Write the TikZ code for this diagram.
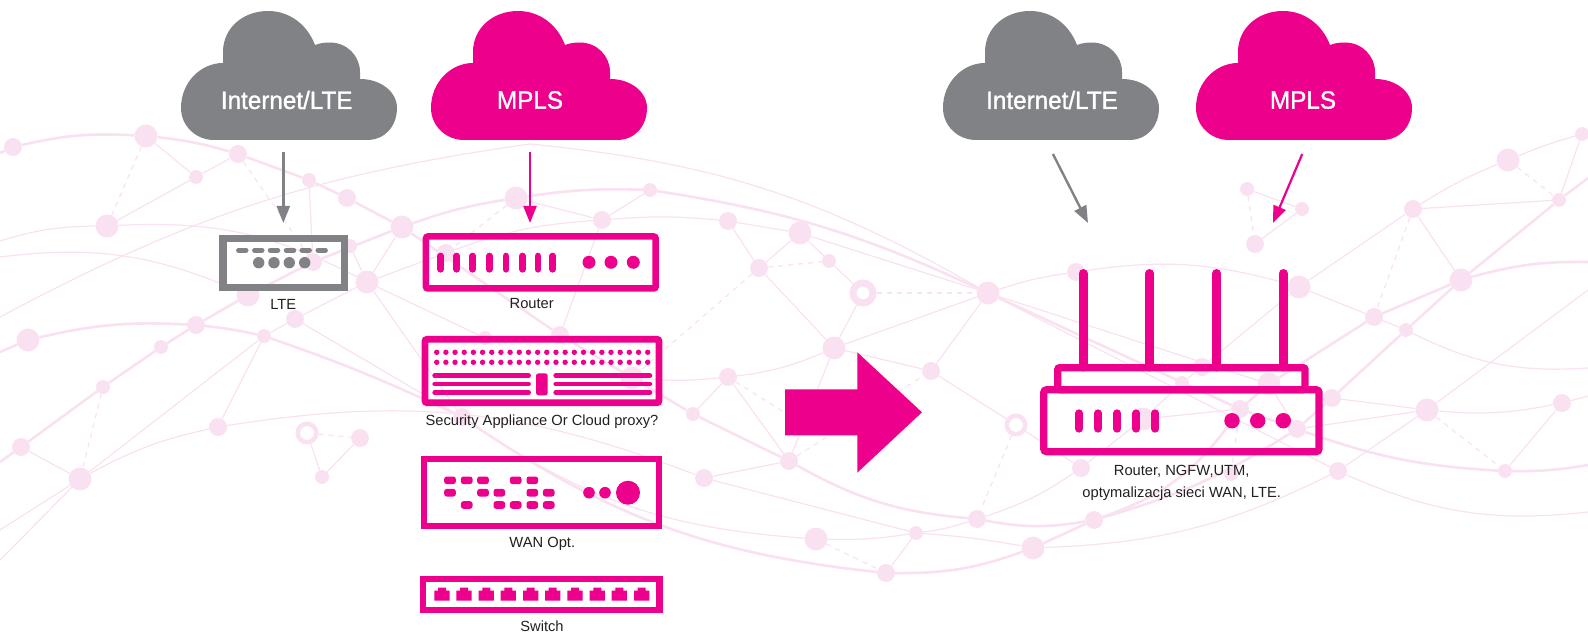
\documentclass[tikz,border=0pt]{standalone}
\usepackage{fontspec}
\setmainfont{Liberation Sans}
\newfontfamily\cloudfont[FakeBold=1.2,FakeStretch=0.97]{Liberation Sans}
\usetikzlibrary{shapes,arrows.meta}
\definecolor{tmagenta}{HTML}{EC008C}
\definecolor{tgray}{HTML}{808285}
\definecolor{netpink}{HTML}{FAE1F1}
\definecolor{labeldark}{HTML}{231F20}
\tikzset{
  netS/.style={shape=circle,fill=netpink,inner sep=0pt,minimum size=14pt},
  netM/.style={shape=circle,fill=netpink,inner sep=0pt,minimum size=18pt},
  netL/.style={shape=circle,fill=netpink,inner sep=0pt,minimum size=23pt},
  netring/.style={shape=circle,draw=netpink,fill=white,line width=4.5pt,inner sep=0pt,minimum size=18.5pt},
  netthick/.style={-,draw=netpink,line width=2.6pt},
  netthin/.style={-,draw=netpink,line width=1.2pt},
  netdash/.style={-,draw=netpink,line width=1.2pt,dash pattern=on 5pt off 5pt},
  cloudlabel/.style={font=\fontsize{25}{28}\cloudfont,text=white,inner sep=0pt,minimum height=104pt},
  devicelabel/.style={font=\fontsize{14.7}{22.3}\selectfont,text=labeldark,inner sep=0pt,align=center},
  devicebox/.style={shape=rectangle,draw=tmagenta,line width=6.5pt,inner sep=0pt},
  grayarrow/.style={-{Triangle[width=13pt,length=17pt]},draw=tgray,line width=2.4pt},
  pinkarrow/.style={-{Triangle[width=13pt,length=17pt]},draw=tmagenta,line width=2.2pt},
  pillbar/.style={draw=tmagenta,line cap=round},
  cloudbody/.pic={\path[pic actions] (33,0) .. controls (15,0) and (0,-14) .. (0,-32) .. controls (0,-58) and (20,-77) .. (42,-77) -- (42,-88) .. controls (42,-112) and (62,-129) .. (87,-129) .. controls (108,-129) and (126,-116) .. (134,-95) .. controls (139,-97) and (144,-97.5) .. (149,-97.5) .. controls (166,-97.5) and (179,-84) .. (179,-68) -- (179,-61) .. controls (200,-61) and (216,-48) .. (216,-32) .. controls (216,-14) and (204,0) .. (186,0) -- cycle;},
  portjack/.pic={\fill[tmagenta] (-7.6,0) -- (-7.6,-10) -- (-4,-10) -- (-4,-13) -- (4,-13) -- (4,-10) -- (7.6,-10) -- (7.6,0) -- cycle;}
}
\begin{document}
\begin{tikzpicture}[x=1pt,y=-1pt]
\useasboundingbox (0,0) rectangle (1588,636);

\node[netM] (0) at (13,147) {};
\node[netL] (1) at (146,136) {};
\node[netS] (2) at (196,177) {};
\node[netM] (3) at (238,154) {};
\node[netS] (4) at (309,180) {};
\node[netM] (5) at (347,198) {};
\node[netL] (6) at (402,227) {};
\node[netL] (7) at (107,226) {};
\node[netS] (8) at (350,246) {};
\node[netM] (9) at (313,262) {};
\node[netL] (10) at (367,282) {};
\node[netL] (11) at (248,295) {};
\node[netM] (12) at (295,319) {};
\node[netM] (13) at (196,325) {};
\node[netS] (14) at (264,336) {};
\node[netL] (15) at (28,340) {};
\node[netS] (16) at (161,347) {};
\node[netS] (17) at (103,387) {};
\node[netM] (18) at (218,427) {};
\node[netM] (19) at (21,447) {};
\node[netL] (20) at (80,479) {};
\node[netring] (21) at (307,433) {};
\node[netM] (22) at (360,438) {};
\node[netS] (23) at (322,477) {};
\node[netL] (24) at (516,198) {};
\node[netM] (25) at (602,220) {};
\node[netS] (26) at (650,190) {};
\node[netM] (27) at (446,253) {};
\node[netM] (28) at (728,221) {};
\node[netL] (29) at (800,233) {};
\node[netM] (30) at (759,268) {};
\node[netS] (31) at (829,261) {};
\node[netring,line width=7pt,minimum size=20pt] (32) at (863,293) {};
\node[netL] (33) at (988,293) {};
\node[netL] (34) at (834,348) {};
\node[netM] (35) at (560,335) {};
\node[netS] (36) at (485,338) {};
\node[netL] (37) at (632,378) {};
\node[netM] (38) at (728,377) {};
\node[netS] (39) at (693,414) {};
\node[netM] (40) at (462,417) {};
\node[netM] (41) at (931,371) {};
\node[netring] (42) at (1016,425) {};
\node[netM] (43) at (789,461) {};
\node[netM] (44) at (704,478) {};
\node[netM] (45) at (977,519) {};
\node[netS] (46) at (916,533) {};
\node[netL] (47) at (816,539) {};
\node[netM] (48) at (886,573) {};
\node[netL] (49) at (1033,548) {};
\node[netS] (50) at (1247,189) {};
\node[netS] (51) at (1302,209) {};
\node[netM] (52) at (1255,244) {};
\node[netL] (53) at (1508,160) {};
\node[netS] (54) at (1582,134) {};
\node[netS] (55) at (1559,200) {};
\node[netM] (56) at (1413,209) {};
\node[netL] (57) at (1299,287) {};
\node[netL] (58) at (1461,280) {};
\node[netM] (59) at (1374,317) {};
\node[netS] (60) at (1406,330) {};
\node[netM] (61) at (1332,398) {};
\node[netL] (62) at (1427,410) {};
\node[netM] (63) at (1562,403) {};
\node[netS] (64) at (1505,471) {};
\node[netM] (65) at (1338,471) {};
\node[netM] (66) at (1202,367) {};
\node[netS] (67) at (1182,383) {};
\node[netL] (68) at (1269,384) {};
\node[netM] (69) at (1240,409) {};
\node[netM] (70) at (1297,429) {};
\node[netM] (71) at (1076,272) {};
\node[netL] (72) at (1143,419) {};
\node[netM] (73) at (1081,468) {};
\node[netM] (74) at (1094,520) {};
\node[netS] (75) at (1231,474) {};

\coordinate (w0) at (0,153);
\coordinate (w1) at (0,241);
\coordinate (w2) at (0,257);
\coordinate (w3) at (0,317);
\coordinate (w4) at (0,352);
\coordinate (w5) at (0,462);
\coordinate (w6) at (0,530);
\coordinate (w7) at (0,560);
\coordinate (e0) at (1588,178);
\coordinate (e1) at (1588,262);
\coordinate (e2) at (1588,290);
\coordinate (e3) at (1588,368);
\coordinate (e4) at (1588,396);
\coordinate (e5) at (1588,465);
\coordinate (e6) at (1588,512);
\coordinate (archtop) at (530,144);
\coordinate (underarrow) at (790,416);

\path [netthick] (w0) edge node {} (0);
\path [netthick] (0) edge[bend left=8] node {} (1);
\path [netthick] (1) edge[bend left=5] node {} (3);
\path [netthick] (3) edge node {} (4);
\path [netthick] (4) edge node {} (5);
\path [netthick] (5) edge node {} (6);
\path [netthick] (6) edge node {} (35);
\path [netthick] (35) edge node {} (39);
\path [netthick] (39) edge node {} (43);
\path [netthick] (43) edge[bend right=12] node {} (45);
\path [netthick] (45) edge[bend right=10] node {} (74);
\path [netthick] (w4) edge node {} (15);
\path [netthick] (15) edge[bend left=8] node {} (13);
\path [netthick] (13) edge[bend left=3] node {} (14);
\path [netthick] (14) edge[bend left=3] node {} (40);
\path [netthick] (40) edge[bend right=14] node {} (48);
\path [netthick] (48) edge[bend right=10] node {} (49);
\path [netthick] (49) edge node {} (74);
\path [netthick] (w5) edge node {} (19);
\path [netthick] (19) edge node {} (17);
\path [netthick] (17) edge node {} (16);
\path [netthick] (16) edge node {} (13);
\path [netthick] (13) edge node {} (11);
\path [netthick] (11) edge node {} (9);
\path [netthick] (9) edge node {} (6);
\path [netthick] (6) edge[bend left=5] node {} (24);
\path [netthick] (24) edge[bend left=5] node {} (26);
\path [netthick] (26) edge[bend left=8] node {} (33);
\path [netthick] (33) edge node {} (69);
\path [netthick] (69) edge node {} (70);
\path [netthick] (70) edge[bend right=8] node {} (64);
\path [netthick] (64) edge[bend right=5] node {} (e5);
\path [netthick] (74) edge[bend right=18] node {} (69);
\path [netthick] (69) edge node {} (68);
\path [netthick] (68) edge node {} (59);
\path [netthick] (59) edge node {} (58);
\path [netthick] (58) edge[bend left=8] node {} (e1);
\path [netthick] (74) edge[bend right=8] node {} (70);
\path [netthick] (70) edge node {} (61);
\path [netthick] (61) edge node {} (60);
\path [netthick] (60) edge node {} (58);
\path [netthick] (58) edge node {} (55);
\path [netthick] (55) edge node {} (e0);

\path [netthin] (1) edge node {} (2);
\path [netthin] (2) edge node {} (3);
\path [netthin] (2) edge node {} (7);
\path [netthin] (4) edge node {} (9);
\path [netthin] (8) edge node {} (10);
\path [netthin] (6) edge node {} (10);
\path [netthin] (w3) edge[bend left=10] node {} (archtop);
\path [netthin] (archtop) edge[bend left=12] node {} (33);
\path [netthin] (w1) edge[bend left=8] node {} (7);
\path [netthin] (7) edge[bend left=15] node {} (10);
\path [netthin] (w2) edge[bend left=15] node {} (11);
\path [netthin] (10) edge node {} (12);
\path [netthin] (12) edge node {} (14);
\path [netthin] (12) edge node {} (40);
\path [netthin] (10) edge node {} (27);
\path [netthin] (27) edge[bend left=8] node {} (25);
\path [netthin] (10) edge node {} (36);
\path [netthin] (10) edge node {} (40);
\path [netthin] (14) edge node {} (18);
\path [netthin] (14) edge node {} (20);
\path [netthin] (20) edge[bend left=8] node {} (18);
\path [netthin] (18) edge[bend left=15] node {} (44);
\path [netthin] (19) edge node {} (20);
\path [netthin] (20) edge node {} (w6);
\path [netthin] (20) edge node {} (w7);
\path [netthin] (21) edge node {} (23);
\path [netthin] (22) edge node {} (23);
\path [netthin] (24) edge node {} (25);
\path [netthin] (25) edge node {} (26);
\path [netthin] (25) edge[bend left=5] node {} (28);
\path [netthin] (35) edge node {} (25);
\path [netthin] (28) edge node {} (29);
\path [netthin] (29) edge node {} (31);
\path [netthin] (28) edge node {} (30);
\path [netthin] (30) edge node {} (29);
\path [netthin] (31) edge node {} (32);
\path [netthin] (32) edge node {} (34);
\path [netthin] (30) edge node {} (34);
\path [netthin] (29) edge node {} (33);
\path [netthin] (34) edge node {} (33);
\path [netthin] (34) edge node {} (41);
\path [netthin] (41) edge node {} (33);
\path [netthin] (38) edge[bend right=8] node {} (34);
\path [netthin] (37) edge[bend right=5] node {} (38);
\path [netthin] (38) edge node {} (39);
\path [netthin] (38) edge node {} (43);
\path [netthin] (34) edge node {} (43);
\path [netthin] (44) edge node {} (43);
\path [netthin] (41) edge node {} (42);
\path [netthin] (42) edge node {} (73);
\path [netthin] (45) edge[bend right=8] node {} (73);
\path [netthin] (73) edge node {} (72);
\path [netthin] (72) edge node {} (67);
\path [netthin] (67) edge node {} (66);
\path [netthin] (66) edge node {} (57);
\path [netthin] (57) edge node {} (56);
\path [netthin] (56) edge[bend left=5] node {} (53);
\path [netthin] (56) edge node {} (55);
\path [netthin] (53) edge[bend left=3] node {} (54);
\path [netthin] (54) edge node {} (55);
\path [netthin] (56) edge node {} (58);
\path [netthin] (57) edge node {} (59);
\path [netthin] (59) edge node {} (60);
\path [netthin] (60) edge[bend right=15] node {} (e3);
\path [netthin] (33) edge[bend left=5] node {} (71);
\path [netthin] (71) edge[bend left=12] node {} (57);
\path [netthin] (33) edge node {} (68);
\path [netthin] (33) edge node {} (65);
\path [netthin] (65) edge[bend right=15] node {} (e6);
\path [netthin] (65) edge node {} (62);
\path [netthin] (61) edge node {} (62);
\path [netthin] (70) edge node {} (62);
\path [netthin] (72) edge node {} (69);
\path [netthin] (62) edge[bend right=8] node {} (63);
\path [netthin] (63) edge node {} (e4);
\path [netthin] (62) edge node {} (e2);
\path [netthin] (64) edge node {} (63);
\path [netthin] (70) edge node {} (68);
\path [netthin] (49) edge[bend right=12] node {} (65);
\path [netthin] (46) edge[bend left=3] node {} (49);
\path [netthin] (46) edge[bend right=5] node {} (45);
\path [netthin] (44) edge node {} (46);
\path [netthin] (47) edge[bend right=5] node {} (46);
\path [netthin] (46) edge node {} (48);
\path [netthin] (40) edge[bend right=15] node {} (47);
\path [netthin] (50) edge node {} (51);
\path [netthin] (51) edge node {} (52);

\path [netdash] (1) edge node {} (7);
\path [netdash] (3) edge node {} (9);
\path [netdash] (17) edge node {} (20);
\path [netdash] (21) edge node {} (22);
\path [netdash] (24) edge node {} (27);
\path [netdash] (30) edge node {} (31);
\path [netdash] (32) edge node {} (33);
\path [netdash] (30) edge node {} (37);
\path [netdash] (38) edge node {} (underarrow);
\path [netdash] (43) edge node {} (41);
\path [netdash] (42) edge node {} (45);
\path [netdash] (47) edge node {} (48);
\path [netdash] (50) edge node {} (52);
\path [netdash] (53) edge node {} (55);
\path [netdash] (56) edge node {} (59);
\path [netdash] (62) edge node {} (64);
\path [netdash] (69) edge node {} (75);

\pic[fill=tgray] at (181,140) {cloudbody};
\pic[fill=tmagenta] at (431,140) {cloudbody};
\pic[fill=tgray] at (943,140) {cloudbody};
\pic[fill=tmagenta] at (1196,140) {cloudbody};
\node[cloudlabel] (internetA) at (286.7,100) {Internet/LTE};
\node[cloudlabel] (mplsA) at (530,100) {MPLS};
\node[cloudlabel] (internetB) at (1052,100) {Internet/LTE};
\node[cloudlabel] (mplsB) at (1303,100) {MPLS};

\coordinate (lteTip) at (283.3,223);
\coordinate (routerTip) at (530,223);
\coordinate (bigGrayTip) at (1088,223);
\coordinate (bigPinkTip) at (1273,223);
\draw [grayarrow] (internetA.south -| lteTip) -- (lteTip);
\draw [pinkarrow] (mplsA.south) -- (routerTip);
\draw [grayarrow,shorten <=2pt] (internetB.south) -- (bigGrayTip);
\draw [pinkarrow,shorten <=2pt] (mplsB.south) -- (bigPinkTip);

\node[devicebox,draw=tgray,line width=7.3pt,minimum width=121.5pt,minimum height=49pt] (lteBox) at (283.7,263) {};
\foreach \xpos in {242.3,258.3,274,290,305.7,321.7} \draw[tgray,line cap=round,line width=5.5pt] (\xpos-3.5,250.3) -- (\xpos+3.5,250.3);
\foreach \xpos in {258.7,274,289.3,304.7} \fill[tgray] (\xpos,262.7) circle (5.7);

\node[devicebox,rounded corners=2pt,minimum width=229.7pt,minimum height=52pt] (routerBox) at (540.8,262.5) {};
\foreach \xpos in {440.7,456.7,472.7,489.3,506,522.7,538,552.7} \draw[pillbar,line width=6.7pt] (\xpos,256) -- (\xpos,269.3);
\foreach \xpos in {589,611,633.3} \fill[tmagenta] (\xpos,262.3) circle (6.5);

\node[devicebox,line width=6.7pt,rounded corners=2pt,minimum width=234pt,minimum height=63.4pt] (securityBox) at (542,371) {};
\foreach \col in {0,...,23} {
  \fill[tmagenta] (436.7+\col*9.174,352.3) circle (2.7);
  \fill[tmagenta] (436.7+\col*9.174,362.3) circle (2.7);
}
\foreach \ypos in {375.7,384,392.7} {
  \draw[pillbar,line width=4.7pt] (434.7,\ypos) -- (528.6,\ypos);
  \draw[pillbar,line width=4.7pt] (555.7,\ypos) -- (649.9,\ypos);
}
\fill[tmagenta,rounded corners=2.5pt] (536,373.3) rectangle (547.7,395.3);

\node[devicebox,minimum width=235pt,minimum height=67pt] (wanBox) at (541.5,492.5) {};
\foreach \xpos/\ypos in {450/480.3,466.7/480.3,483/480.3,515.7/480.3,532.3/480.3,450/492.7,483/492.7,499.3/492.7,532.3/492.7,548.7/492.7,466.7/505,499.3/505,515.7/505,532.3/505,548.7/505} \fill[tmagenta,rounded corners=2.5pt] (\xpos-5.8,\ypos-3.8) rectangle (\xpos+5.8,\ypos+3.8);
\fill[tmagenta] (589,492.7) circle (5.8);
\fill[tmagenta] (605,492.7) circle (5.8);
\fill[tmagenta] (628,492.7) circle (12);

\node[devicebox,line width=6.3pt,minimum width=236.4pt,minimum height=31.3pt] (switchBox) at (541.4,594.5) {};
\foreach \xpos in {442,464,486.3,508.3,530.7,552.7,575,597.3,619.3,641.7} \pic at (\xpos,600.7) {portjack};

\fill[tmagenta] (785,389.3) -- (857.3,389.3) -- (857.3,352.3) -- (922,412.3) -- (857.3,472.7) -- (857.3,435.3) -- (785,435.3) -- cycle;

\foreach \xpos in {1083,1149.7,1216.7,1283.3} \draw[pillbar,line width=9pt] (\xpos,273.5) -- (\xpos,367);
\node[devicebox,line width=7.3pt,rounded corners=2pt,minimum width=247.3pt,minimum height=22pt] (trayBox) at (1181.4,378.7) {};
\node[devicebox,line width=7.3pt,rounded corners=3pt,minimum width=275.3pt,minimum height=62pt] (bigRouterBox) at (1181.4,420.7) {};
\foreach \xpos in {1079,1098,1117.3,1136.3,1155.3} \draw[pillbar,line width=7.7pt] (\xpos,413.2) -- (\xpos,428.8);
\foreach \xpos in {1232,1257.7,1283.3} \fill[tmagenta] (\xpos,420.7) circle (7.7);

\node[devicelabel] (lteText) at (283.3,304) {LTE};
\node[devicelabel] (routerText) at (531.7,304) {Router};
\node[devicelabel] (securityText) at (542,421.7) {Security Appliance Or Cloud proxy?};
\node[devicelabel] (wanText) at (542.3,544) {WAN Opt.};
\node[devicelabel] (switchText) at (542,626.7) {Switch};
\node[devicelabel] (bigRouterText) at (1181.7,482.8) {Router, NGFW,UTM,\\optymalizacja sieci WAN, LTE.};
\end{tikzpicture}
\end{document}
